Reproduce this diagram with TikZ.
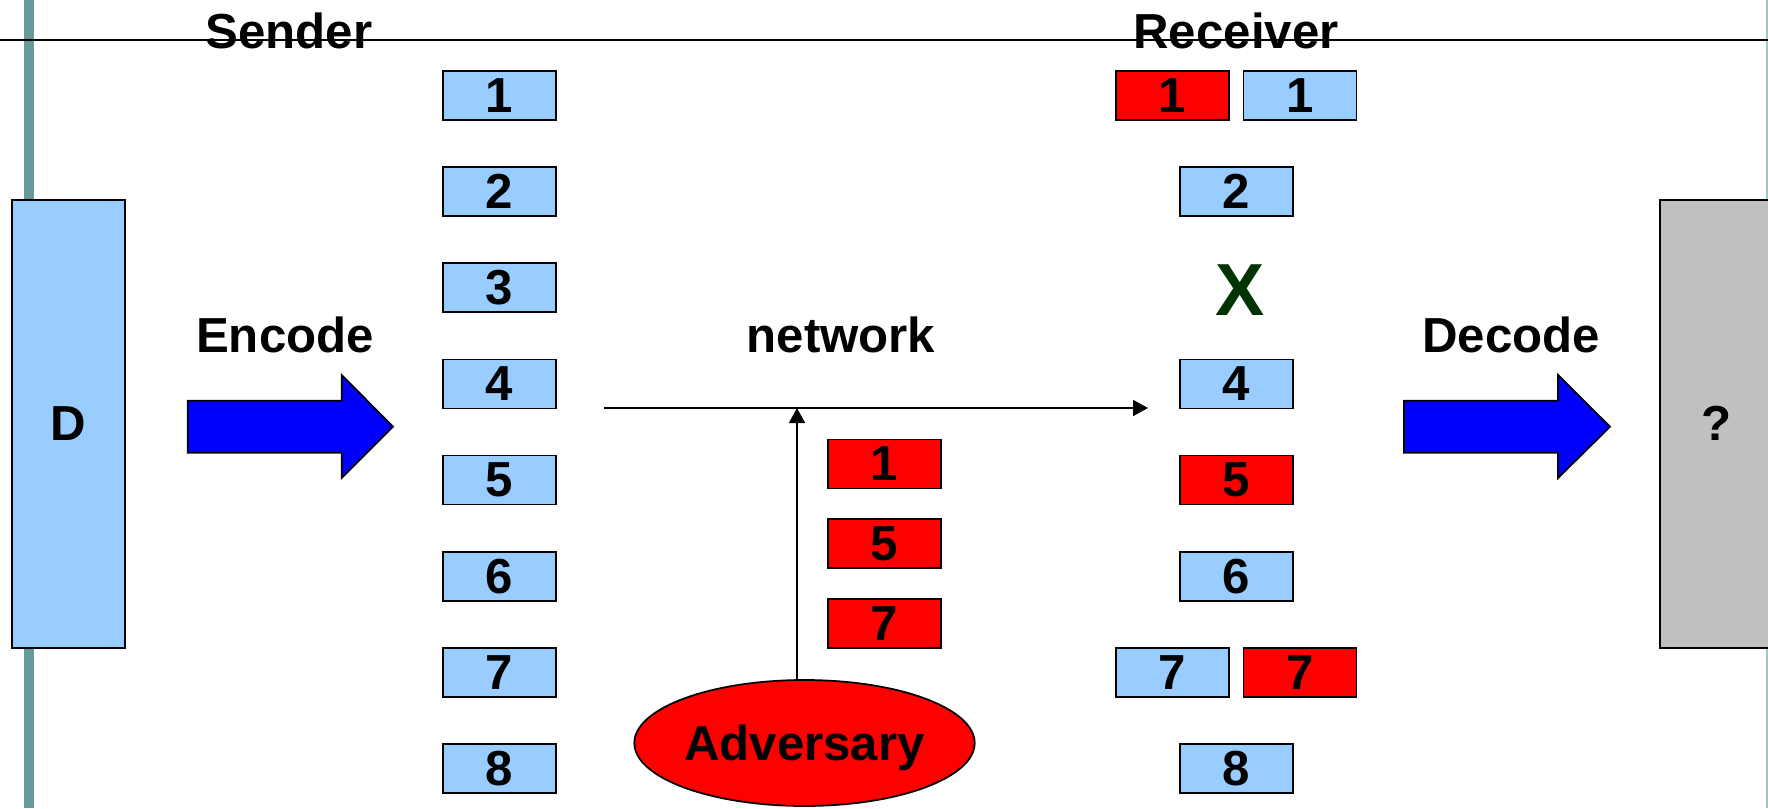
\documentclass[tikz,border=0pt]{standalone}
\usepackage{fontspec}
\setmainfont{Liberation Sans}
\usepackage{xcolor}
\usepackage{tikz}
\usetikzlibrary{arrows.meta, positioning, shapes.geometric}

\definecolor{pktblue}{HTML}{99CCFF}
\definecolor{outgray}{HTML}{C0C0C0}
\definecolor{slideteal}{HTML}{669999}
\definecolor{lostgreen}{HTML}{003300}

\begin{document}
\begin{tikzpicture}[
    x=0.02cm, y=-0.02cm,
    font=\fontsize{28}{34}\selectfont\bfseries,
    node distance=0.908cm,
    pkt/.style={rectangle, draw, line width=1pt, fill=pktblue, minimum width=2.26cm, minimum height=0.98cm, inner sep=0pt},
    bad/.style={pkt, fill=red},
    block/.style={rectangle, draw, line width=1.2pt, minimum width=2.26cm, minimum height=8.97cm, inner sep=0pt},
    fat/.style={draw, line width=1pt, fill=blue},
    arrow/.style={-{Triangle[length=0.3cm, width=0.32cm]}, line width=0.9pt}
    ]
    \useasboundingbox (0,0) rectangle (1768,808);
    \clip (0,0) rectangle (1768,808);

    % slide frame
    \fill[slideteal] (23.5,0) rectangle (33.5,808);
    \draw[slideteal!60, line width=0.6pt] (1767,0) -- (1767,808);
    \draw[line width=1pt] (0,40) -- (1768,40);

    \node[anchor=base] (sender) at (289,49) {Sender};
    \node[anchor=base] (receiver) at (1236,49) {Receiver};

    \node[block, fill=pktblue] (data) at (68.3,423.8) {D};
    \node[block, fill=outgray] (result) at (1716.7,423.8) {?};

    % encode / decode
    \node[anchor=base] (enc) at (285,352.7) {Encode};
    \node[anchor=base] (dec) at (1511,352.7) {Decode};
    \filldraw[fat] (187.7,400.7) -- (341.7,400.7) -- (341.7,375) -- (393,426.7)
        -- (341.7,478) -- (341.7,452.7) -- (187.7,452.7) -- cycle;
    \filldraw[fat] (1404,400.7) -- (1558,400.7) -- (1558,375) -- (1610,426.7)
        -- (1558,478) -- (1558,452.7) -- (1404,452.7) -- cycle;

    % sent packets
    \node[pkt] (s1) at (499.5,95.5) {1};
    \node[pkt, below=of s1] (s2) {2};
    \node[pkt, below=of s2] (s3) {3};
    \node[pkt, below=of s3] (s4) {4};
    \node[pkt, below=of s4] (s5) {5};
    \node[pkt, below=of s5] (s6) {6};
    \node[pkt, below=of s6] (s7) {7};
    \node[pkt, below=of s7] (s8) {8};

    % network and adversary
    \node[anchor=base] (net) at (841,352) {network};
    \coordinate (netin) at (604,408);
    \coordinate (netout) at (1148,408);
    \coordinate (tap) at (797,408);
    \draw[arrow] (netin) -- (netout);

    \node[ellipse, draw, line width=1pt, fill=red, minimum width=6.74cm, minimum height=2.52cm, inner sep=0pt, text depth=0pt] (adv) at (804.5,743) {Adversary};
    \draw[arrow] (tap |- adv.north) -- (tap);

    \node[bad] (a1) at (884.5,464) {1};
    \node[bad, below=0.581cm of a1] (a5) {5};
    \node[bad, below=0.581cm of a5] (a7) {7};

    % received packets
    \node[pkt] (r2) at (1236.5,191.5) {2};
    \node[bad] (r1a) at (1172.5,95.5) {1};
    \node[pkt] (r1b) at (1300,95.5) {1};
    \node[text=lostgreen, font=\fontsize{42}{50}\selectfont\bfseries] (lost) at (1240,290) {X};
    \node[pkt] (r4) at (s4 -| r2) {4};
    \node[bad] (r5) at (s5 -| r2) {5};
    \node[pkt] (r6) at (s6 -| r2) {6};
    \node[pkt] (r7a) at (s7 -| r1a) {7};
    \node[bad] (r7b) at (s7 -| r1b) {7};
    \node[pkt] (r8) at (s8 -| r2) {8};
\end{tikzpicture}
\end{document}
